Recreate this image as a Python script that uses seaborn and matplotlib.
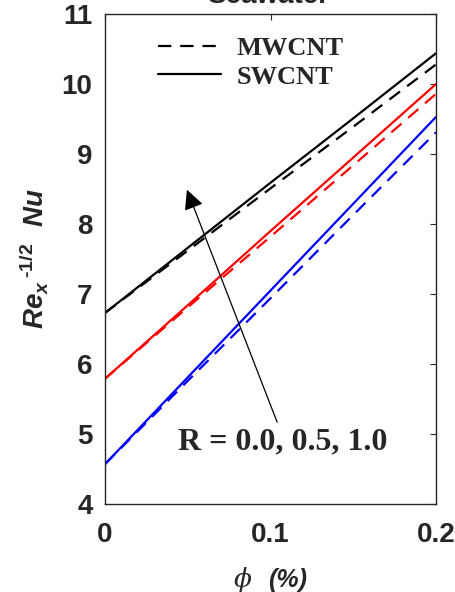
import pandas as pd
import numpy as np
import matplotlib
matplotlib.use('Agg')
import matplotlib.pyplot as plt
import seaborn as sns
from matplotlib.lines import Line2D

# Valores
phi = [0.0, 0.05, 0.10, 0.15, 0.20]
R_vals = [0.0, 0.5, 1.0]

sw_r00 = [4.57, 5.81, 7.05, 8.29, 9.53]
sw_r05 = [5.79, 6.84, 7.90, 8.95, 10.00]
sw_r10 = [6.73, 7.66, 8.59, 9.51, 10.44]

mw_r00 = [4.57, 5.76, 6.94, 8.13, 9.31]
mw_r05 = [5.79, 6.81, 7.82, 8.84, 9.86]
mw_r10 = [6.73, 7.62, 8.51, 9.39, 10.28]

cores = {0.0: 'blue', 0.5: 'red', 1.0: 'black'}

# Montar dataframe longo
linhas = []
for fluido, series in [('SWCNT', [sw_r00, sw_r05, sw_r10]), ('MWCNT', [mw_r00, mw_r05, mw_r10])]:
    for r, vals in zip(R_vals, series):
        for p, v in zip(phi, vals):
            linhas.append({'phi': p, 'Nu': v, 'R': r, 'fluido': fluido})
df = pd.DataFrame(linhas)

sns.set_style('white')
plt.rcParams['mathtext.fontset'] = 'custom'
plt.rcParams['mathtext.it'] = 'Liberation Sans:italic:bold'
plt.rcParams['mathtext.rm'] = 'Liberation Sans:bold'

fig = plt.figure(figsize=(4.55, 5.92), dpi=100)
ax = fig.add_axes([0.2308, 0.1486, 0.7275, 0.8277])

sns.lineplot(data=df, x='phi', y='Nu', hue='R', style='fluido', palette=cores,
             dashes={'SWCNT': '', 'MWCNT': (6, 4)}, linewidth=1.6, legend=False,
             ax=ax)

ax.set_xlim(0, 0.2)
ax.set_ylim(4, 11)
ax.set_xticks([0, 0.1, 0.2])
ax.set_xticklabels(['0', '0.1', '0.2'])
ax.set_yticks(range(4, 12))

for s in ax.spines.values():
    s.set_visible(True)
    s.set_color('#262626')
    s.set_linewidth(1.0)

ax.tick_params(direction='in', length=4, width=0.8, colors='#262626',
               top=True, right=True, labelsize=20)
ax.tick_params(axis='x', pad=13)
ax.tick_params(axis='y', pad=9)
for lbl in ax.get_xticklabels() + ax.get_yticklabels():
    lbl.set_fontfamily('Liberation Sans')
    lbl.set_fontweight('bold')

ax.set_xlabel('')
ax.set_ylabel(r'$Re_x\,{}^{\mathrm{\text{-}}1/2}\ \ Nu$', fontsize=20, color='#262626')
ax.yaxis.set_label_coords(-0.165, 0.5)

# rótulo do eixo x: phi (%)
fig.text(243 / 455, 1 - 580 / 592, '\u03d5', fontfamily='DejaVu Serif', style='italic',
         fontsize=19, color='#262626', ha='center', va='center')
fig.text(268 / 455, 1 - 580 / 592, '(%)', fontfamily='Liberation Sans', style='italic',
         fontweight='bold', fontsize=18, color='#262626', ha='left', va='center')

# título cortado
fig.text(268 / 455, 1 - 3 / 592, 'Seawater', fontfamily='Liberation Sans',
         fontweight='bold', fontsize=20, color='#262626', ha='center', va='baseline')

# legenda
handles = [Line2D([], [], color='black', lw=1.6, dashes=(6, 4)),
           Line2D([], [], color='black', lw=1.6)]
ax.legend(handles, ['MWCNT', 'SWCNT'], loc='upper left', bbox_to_anchor=(0.103, 0.992),
          frameon=False, prop={'family': 'Liberation Serif', 'weight': 'bold', 'size': 19},
          handlelength=2.4, labelspacing=0.2, handletextpad=0.6, borderpad=0.2)

# seta e texto de R
ax.annotate('', xy=(0.0495, 8.49), xytext=(0.104, 5.17),
            arrowprops=dict(arrowstyle='-|>', color='black', lw=0.9,
                            mutation_scale=30, shrinkA=0, shrinkB=0))
ax.text(0.044, 4.89, 'R = 0.0, 0.5, 1.0', fontfamily='Liberation Serif',
        fontweight='bold', fontsize=23, ha='left', va='center')

fig.savefig('out.png', dpi=100)
